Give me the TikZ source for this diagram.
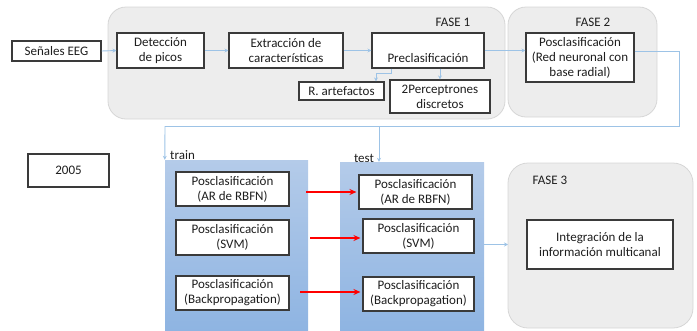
\documentclass[tikz,border=0pt]{standalone}
\usepackage{fontspec}
\setmainfont{Carlito}
\usetikzlibrary{arrows.meta,calc}
\definecolor{phasefill}{HTML}{EDEDED}
\definecolor{phaseline}{HTML}{D6D6D6}
\definecolor{linkblue}{HTML}{9DC3E6}
\definecolor{boxline}{HTML}{3A3A3A}
\definecolor{blueTop}{HTML}{B4CBE9}
\definecolor{blueBot}{HTML}{8EB4E2}
\definecolor{txt}{HTML}{1E1E1E}
\tikzset{
  phase/.style={draw=phaseline, fill=phasefill, line width=0.8pt, rounded corners=18pt},
  stagebg/.style={top color=blueTop, bottom color=blueBot, draw=none},
  procbox/.style={draw=boxline, fill=white, line width=1.1pt, align=center,
    inner sep=0pt, text=txt, font=\fontsize{13}{15}\selectfont},
  lbl/.style={text=txt, font=\fontsize{13}{15}\selectfont, inner sep=0pt},
  link/.style={draw=linkblue, line width=0.9pt, -{Stealth[length=4pt,width=4pt]}},
  plainlink/.style={draw=linkblue, line width=0.9pt},
  redarrow/.style={draw=red, line width=2pt, -{Stealth[length=7pt,width=6pt]}, shorten >=2pt}
}
\begin{document}
\begin{tikzpicture}[x=1pt,y=-1pt]
\useasboundingbox (0,0) rectangle (697,330);

% phase panels
\draw[phase] (108,7) rectangle (505,119);
\draw[phase] (508,7) rectangle (657,117);
\draw[phase,rounded corners=20pt] (508,163) rectangle (693,328);
\node[lbl] (f1) at (453,22) {FASE 1};
\node[lbl] (f2) at (593,22) {FASE 2};
\node[lbl] (f3) at (550,180) {FASE 3};

% train / test panels
\node[stagebg, minimum width=143pt, minimum height=172pt, inner sep=0pt] (trainbg) at (236.5,246) {};
\node[stagebg, minimum width=144pt, minimum height=170pt, inner sep=0pt] (testbg) at (412,247) {};
\node[lbl, anchor=west] (trainlbl) at (170,155) {train};
\node[lbl] (testlbl) at (364,158) {test};

% phase 1 and 2 blocks
\node[procbox, minimum width=89pt, minimum height=20pt] (sen) at (56.5,51) {Señales EEG};
\node[procbox, minimum width=87pt, minimum height=35pt] (det) at (160.5,50.5) {Detección\\de picos};
\node[procbox, minimum width=114pt, minimum height=35pt] (ext) at (286,50.5) {Extracción de\\características};
\node[procbox, minimum width=112pt, minimum height=35pt] (pre) at (428,50.5) {\raisebox{-8pt}[\height][\depth]{Preclasificación}};
\node[procbox, minimum width=85pt, minimum height=18pt] (art) at (341.5,91) {R. artefactos};
\node[procbox, minimum width=100pt, minimum height=33pt] (per) at (440,96.5) {2Perceptrones\\discretos};
\node[procbox, minimum width=108pt, minimum height=49pt] (pos) at (580,57.5) {Posclasificación\\(Red neuronal con\\base radial)};

\node[procbox, minimum width=81pt, minimum height=33pt] (year) at (68.5,170.5) {2005};

% train column
\node[procbox, minimum width=113pt, minimum height=34pt] (t1) at (232.5,189) {Posclasificación\\(AR de RBFN)};
\node[procbox, minimum width=113pt, minimum height=35pt] (t2) at (232.5,237.5) {Posclasificación\\(SVM)};
\node[procbox, minimum width=113pt, minimum height=34pt] (t3) at (232.5,293) {Posclasificación\\(Backpropagation)};

% test column
\node[procbox, minimum width=113pt, minimum height=34pt] (s1) at (415.5,192) {Posclasificación\\(AR de RBFN)};
\node[procbox, minimum width=111pt, minimum height=34pt] (s2) at (418.5,236) {Posclasificación\\(SVM)};
\node[procbox, minimum width=111pt, minimum height=34pt] (s3) at (418.5,294) {Posclasificación\\(Backpropagation)};

% phase 3 block
\node[procbox, minimum width=146pt, minimum height=49pt] (int) at (600,244.5) {Integración de la\\información multicanal};

% main chain
\draw[link] (sen.east) -- (det.west);
\draw[link] (det.east) -- (ext.west);
\draw[link] (ext.east) -- (pre.west);
\draw[link] (pre.east) -- (pre.east -| pos.west);

% preclassification outputs
\draw[link] (pre.south -| 391,0) -- (391,73) -- (376,73) -- (art.north -| 376,0);
\draw[link] (pre.south -| per.north) -- (per.north);

% feedback towards train and test
\coordinate (fbA) at ($(pos.east)+(0,-6)$);
\coordinate (fbB) at (679,51.5);
\coordinate (fbC) at (679,126);
\coordinate (fbD) at (165,126);
\coordinate (fbE) at (379,126);
\draw[plainlink] (fbA) -- (fbB) -- (fbC) -- (fbD);
\draw[link] (fbD) -- (trainbg.north west);
\draw[link] (fbE) -- (fbE |- testbg.north);

% train to test
\coordinate (r1a) at (306,192);
\coordinate (r2a) at (310,238);
\coordinate (r3a) at (300,292);
\draw[redarrow] (r1a) -- (r1a -| s1.west);
\draw[redarrow] (r2a) -- (r2a -| s2.west);
\draw[redarrow] (r3a) -- (r3a -| s3.west);

% test to phase 3
\draw[link] (testbg.east |- int) -- (int -| 508,0);
\end{tikzpicture}
\end{document}
